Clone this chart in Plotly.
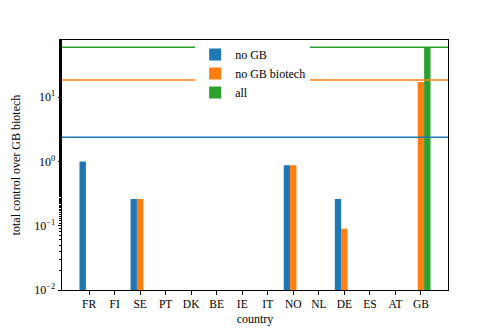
import plotly.graph_objects as go

countries = ["FR", "FI", "SE", "PT", "DK", "BE", "IE", "IT", "NO", "NL", "DE", "ES", "AT", "GB"]
noGB = [1.0, None, 0.26, None, None, None, None, None, 0.87, None, 0.26, None, None, None]
noGBBiotech = [None, None, 0.26, None, None, None, None, None, 0.87, None, 0.09, None, None, 17.3]
allControl = [None, None, None, None, None, None, None, None, None, None, None, None, None, 60.0]

yTickVals = [0.01, 0.1, 1, 10]
yTickText = ["10<sup>\u22122</sup>", "10<sup>\u22121</sup>", "10<sup>0</sup>", "10<sup>1</sup>"]

colors = ["#1f77b4", "#ff7f0e", "#2ca02c"]
names = ["no GB", "no GB biotech", "all"]
series = [noGB, noGBBiotech, allControl]
offsets = [-0.375, -0.125, 0.125]

serif = "Liberation Serif"

fig = go.Figure()
for name, values, color, off in zip(names, series, colors, offsets):
    fig.add_trace(go.Bar(x=countries, y=values, name=name, marker_color=color,
                         marker_line_width=0, width=0.25, offset=off))

# total per series as horizontal line
for values, color in zip(series, colors):
    total = sum(v for v in values if v is not None)
    fig.add_shape(type="line", xref="paper", x0=0, x1=1, yref="y", y0=total, y1=total,
                  line=dict(color=color, width=1.5), layer="above")

# page body has a default 8px margin, so the figure is a bit smaller than the window
fig.update_layout(
    width=490, height=324,
    margin=dict(l=54, r=50, t=32, b=42),
    plot_bgcolor="white", paper_bgcolor="white",
    barmode="overlay",
    font=dict(family=serif, size=12, color="black"),
    showlegend=True,
    legend=dict(x=0.345, y=1.0, xanchor="left", yanchor="top",
                bgcolor="white", borderwidth=0, font=dict(family=serif, size=12),
                itemwidth=30, tracegroupgap=0),
)
fig.update_xaxes(
    range=[-1.06, 14.06], showline=True, linecolor="black", linewidth=1, mirror=True,
    ticks="outside", ticklen=3.5, tickcolor="black", showgrid=False, automargin=False,
    tickfont=dict(family=serif, size=11.5),
    title=dict(text="country", standoff=5, font=dict(family=serif, size=12)),
)
fig.update_yaxes(
    type="log", range=[-2, 1.89], tickvals=yTickVals, ticktext=yTickText,
    showline=True, linecolor="black", linewidth=1, mirror=True,
    ticks="outside", ticklen=3.5, tickcolor="black", showgrid=False, automargin=False,
    tickfont=dict(family=serif, size=12),
    minor=dict(ticks="outside", ticklen=2, tickcolor="black", showgrid=False),
    title=dict(text="total control over GB biotech", standoff=10,
               font=dict(family=serif, size=12)),
)

fig.write_html("out.html")
